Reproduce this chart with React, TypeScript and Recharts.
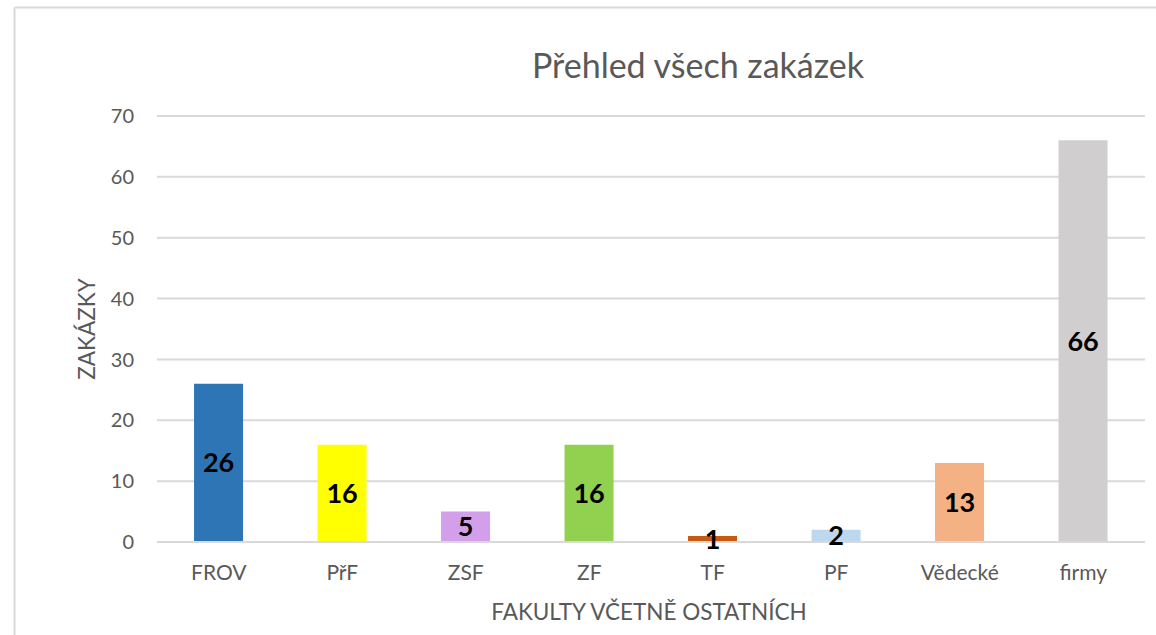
import React from 'react';
import { BarChart, Bar, XAxis, YAxis, CartesianGrid, Cell, LabelList } from 'recharts';

const categories = ['FROV', 'PřF', 'ZSF', 'ZF', 'TF', 'PF', 'Vědecké', 'firmy'];
const values = [26, 16, 5, 16, 1, 2, 13, 66];
const colors = ['#2E75B6', '#FFFF00', '#D39FEA', '#92D050', '#C55A11', '#BDD7EE', '#F4B183', '#D0CECE'];
const yTicks = [0, 10, 20, 30, 40, 50, 60, 70];

const title = 'Přehled všech zakázek';
const xTitle = 'FAKULTY VČETNĚ OSTATNÍCH';
const yTitle = 'ZAKÁZKY';

const data = categories.map((c, i) => ({ name: c, value: values[i] }));

const FONT = 'Lato, "Open Sans", sans-serif';
const TEXT = '#595959';

export default function App() {
  return (
    <div style={{ position: 'absolute', left: 0, top: 0, width: 1156, height: 635, background: '#fff', overflow: 'hidden' }}>
      <BarChart
        width={1156}
        height={635}
        data={data}
        margin={{ top: 116, right: 11, bottom: 0, left: 0 }}
        barCategoryGap="30%"
      >
        <CartesianGrid vertical={false} stroke="#d9d9d9" strokeWidth={2} />
        <XAxis
          dataKey="name"
          height={93}
          tickLine={false}
          tickSize={0}
          tickMargin={23}
          axisLine={{ stroke: '#d9d9d9', strokeWidth: 2 }}
          tick={{ fill: TEXT, fontSize: 21, fontFamily: FONT }}
          interval={0}
        />
        <YAxis
          width={157}
          domain={[0, 70]}
          ticks={yTicks}
          tickLine={false}
          axisLine={false}
          tickSize={0}
          tickMargin={23}
          tick={{ fill: TEXT, fontSize: 20, fontFamily: FONT }}
        />
        <Bar dataKey="value" isAnimationActive={false}>
          {data.map((d, i) => (
            <Cell key={d.name} fill={colors[i]} />
          ))}
          <LabelList
            dataKey="value"
            position="center"
            fill="#000"
            style={{ fontSize: 27, fontWeight: 700, fontFamily: FONT }}
          />
        </Bar>
      </BarChart>
      <svg width={1156} height={635} style={{ position: 'absolute', left: 0, top: 0, pointerEvents: 'none' }}>
        <line x1={14.5} y1={7.5} x2={14.5} y2={635} stroke="#d9d9d9" strokeWidth={2} />
        <line x1={14.5} y1={7.5} x2={1156} y2={7.5} stroke="#d9d9d9" strokeWidth={2} />
        <text x={698} y={78} textAnchor="middle" fill={TEXT} fontSize={34} fontFamily={FONT}>{title}</text>
        <text x={649} y={620} textAnchor="middle" fill={TEXT} fontSize={22.5} fontFamily={FONT}>{xTitle}</text>
        <text x={95} y={329} textAnchor="middle" fill={TEXT} fontSize={22.5} fontFamily={FONT} transform="rotate(-90 95 329)">{yTitle}</text>
      </svg>
    </div>
  );
}
